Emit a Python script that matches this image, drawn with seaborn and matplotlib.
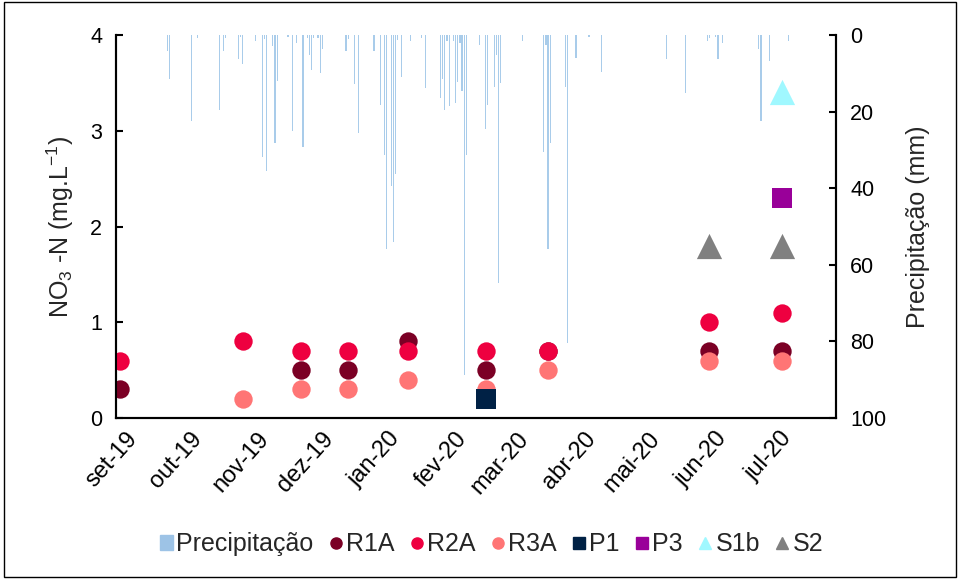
import numpy as np
import pandas as pd
import matplotlib
matplotlib.use("Agg")
import matplotlib.pyplot as plt
import matplotlib.patches as mpatches
import matplotlib.transforms as mtransforms
from matplotlib.lines import Line2D
import seaborn as sns

# datas de coleta
sample_dates = pd.to_datetime(["2019-09-03", "2019-10-30", "2019-11-26", "2019-12-18",
                               "2020-01-15", "2020-02-20", "2020-03-20", "2020-06-03",
                               "2020-07-07"])
r1a = [0.3, np.nan, 0.5, 0.5, 0.8, 0.5, 0.7, 0.7, 0.7]
r2a = [0.6, 0.8, 0.7, 0.7, 0.7, 0.7, 0.7, 1.0, 1.1]
r3a = [np.nan, 0.2, 0.3, 0.3, 0.4, 0.3, 0.5, 0.6, 0.6]

p1_dates = pd.to_datetime(["2020-02-20"])
p1 = [0.2]
p3_dates = pd.to_datetime(["2020-07-07"])
p3 = [2.3]
s1b_dates = pd.to_datetime(["2020-07-07"])
s1b = [3.4]
s2_dates = pd.to_datetime(["2020-06-03", "2020-07-07"])
s2 = [1.8, 1.8]

# precipitação diária (mm)
precip_dates = pd.to_datetime([
    "2019-09-25", "2019-09-26", "2019-10-06", "2019-10-09", "2019-10-19", "2019-10-21",
    "2019-10-22", "2019-10-28", "2019-10-29", "2019-10-30", "2019-11-05", "2019-11-08",
    "2019-11-09", "2019-11-10", "2019-11-13", "2019-11-14", "2019-11-15", "2019-11-20",
    "2019-11-22", "2019-11-24", "2019-11-27", "2019-11-29", "2019-11-30", "2019-12-01",
    "2019-12-02", "2019-12-04", "2019-12-05", "2019-12-06", "2019-12-17", "2019-12-18",
    "2019-12-21", "2019-12-23", "2019-12-30", "2020-01-02", "2020-01-04", "2020-01-05",
    "2020-01-07", "2020-01-08", "2020-01-09", "2020-01-10", "2020-01-12", "2020-01-16",
    "2020-01-21", "2020-01-23", "2020-01-30", "2020-01-31", "2020-02-01", "2020-02-02",
    "2020-02-03", "2020-02-05", "2020-02-06", "2020-02-07", "2020-02-08", "2020-02-09",
    "2020-02-10", "2020-02-11", "2020-02-17", "2020-02-20", "2020-02-21", "2020-02-24",
    "2020-02-25", "2020-02-26", "2020-02-27", "2020-03-08", "2020-03-18", "2020-03-19",
    "2020-03-20", "2020-03-21", "2020-03-28", "2020-03-29", "2020-04-02", "2020-04-08",
    "2020-04-14", "2020-05-14", "2020-05-23", "2020-06-02", "2020-06-03", "2020-06-06",
    "2020-06-07", "2020-06-09", "2020-06-26", "2020-06-27", "2020-07-01", "2020-07-10"])
precip_mm = [
    4.1, 11.4, 22.5, 0.8, 19.6, 4.3,
    0.8, 6.3, 0.5, 7.7, 1.6, 31.8,
    1.0, 35.4, 3.0, 28.1, 11.9, 0.6,
    25.0, 2.2, 29.2, 0.8, 5.3, 9.1,
    0.8, 0.7, 10.0, 3.7, 4.2, 1.0,
    12.8, 25.7, 4.3, 18.4, 31.3, 56.0,
    39.3, 54.0, 36.3, 1.3, 11.1, 1.7,
    0.8, 13.8, 16.4, 11.5, 19.5, 1.5,
    18.5, 1.5, 17.7, 12.2, 2.0, 14.5,
    88.8, 31.3, 2.7, 24.5, 18.2, 13.7,
    5.2, 64.7, 12.5, 1.5, 30.6, 2.5,
    56.0, 28.3, 13.7, 80.5, 6.1, 0.6,
    9.6, 6.2, 15.2, 1.7, 0.8, 0.6,
    6.3, 2.0, 3.7, 22.4, 6.9, 1.5]

month_ticks = pd.date_range("2019-09-01", "2020-07-01", freq="MS")
month_labels = ["set-19", "out-19", "nov-19", "dez-19", "jan-20", "fev-20",
                "mar-20", "abr-20", "mai-20", "jun-20", "jul-20"]

sns.set_style("white")
plt.rcParams["font.family"] = ["Liberation Sans", "DejaVu Sans"]
plt.rcParams["mathtext.fontset"] = "custom"
plt.rcParams["mathtext.rm"] = "Liberation Sans"
plt.rcParams["mathtext.it"] = "Liberation Sans:italic"

fig = plt.figure(figsize=(9.6, 5.79), dpi=100)
ax = fig.add_axes([0.1208, 0.278, 0.7502, 0.6616])
ax2 = ax.twinx()

# precipitação invertida no eixo secundário
ax2.bar(precip_dates, precip_mm, width=0.55, color="#A9CCEA", linewidth=0)
ax2.set_ylim(100, 0)
ax2.set_yticks(range(0, 101, 20))
ax2.set_ylabel("Precipitação (mm)", fontsize=18, labelpad=14)

ax.set_zorder(ax2.get_zorder() + 1)
ax.patch.set_visible(False)

size = 175
sns.scatterplot(x=sample_dates, y=r1a, ax=ax, color="#7B0025", marker="o", s=size, linewidth=0)
sns.scatterplot(x=sample_dates, y=r2a, ax=ax, color="#EE0040", marker="o", s=size, linewidth=0)
sns.scatterplot(x=sample_dates, y=r3a, ax=ax, color="#FF7575", marker="o", s=size, linewidth=0)
sns.scatterplot(x=p1_dates, y=p1, ax=ax, color="#002145", marker="s", s=190, linewidth=0)
sns.scatterplot(x=p3_dates, y=p3, ax=ax, color="#990099", marker="s", s=190, linewidth=0)
sns.scatterplot(x=s1b_dates, y=s1b, ax=ax, color="#A0F8FF", marker="^", s=330, linewidth=0)
sns.scatterplot(x=s2_dates, y=s2, ax=ax, color="#808080", marker="^", s=330, linewidth=0)

ax.set_xlim(pd.Timestamp("2019-09-01"), pd.Timestamp("2020-08-01"))
ax.set_ylim(0, 4)
ax.set_yticks([0, 1, 2, 3, 4])
ax.set_xticks(month_ticks)
ax.set_xticklabels(month_labels, rotation=48, ha="right", rotation_mode="anchor")
ax.set_xlabel("")
ax.set_ylabel(r"NO$_3$ -N (mg.L$^{-1}$)", fontsize=18, labelpad=10)

for a in (ax, ax2):
    a.tick_params(direction="in", length=5, width=1.5, labelsize=15.5, colors="black")
    a.spines["top"].set_visible(False)
    for s in ("left", "right", "bottom"):
        a.spines[s].set_linewidth(1.5)
        a.spines[s].set_color("black")
ax.tick_params(axis="x", pad=7, labelsize=17)
ax.tick_params(axis="y", pad=10)
ax2.tick_params(axis="y", pad=10)

# deslocar rótulos do eixo x um pouco para a direita
shift = mtransforms.ScaledTranslation(10 / 100, 0, fig.dpi_scale_trans)
for lbl in ax.get_xticklabels():
    lbl.set_transform(lbl.get_transform() + shift)

handles = [
    mpatches.Patch(color="#9DC3E6", label="Precipitação"),
    Line2D([], [], ls="", marker="o", ms=8, color="#7B0025", label="R1A"),
    Line2D([], [], ls="", marker="o", ms=8, color="#EE0040", label="R2A"),
    Line2D([], [], ls="", marker="o", ms=8, color="#FF7575", label="R3A"),
    Line2D([], [], ls="", marker="s", ms=8, color="#002145", label="P1"),
    Line2D([], [], ls="", marker="s", ms=8, color="#990099", label="P3"),
    Line2D([], [], ls="", marker="^", ms=9, color="#A0F8FF", label="S1b"),
    Line2D([], [], ls="", marker="^", ms=9, color="#808080", label="S2"),
]
fig.legend(handles=handles, loc="center", bbox_to_anchor=(0.512, 0.06), ncol=8,
           frameon=False, fontsize=18, handlelength=0.5, handleheight=0.55,
           handletextpad=0.15, columnspacing=0.65)

fig.patches.append(mpatches.Rectangle((0.004, 0.004), 0.992, 0.992, transform=fig.transFigure,
                                      fill=False, edgecolor="black", linewidth=1))

fig.savefig("out.png", dpi=100)
